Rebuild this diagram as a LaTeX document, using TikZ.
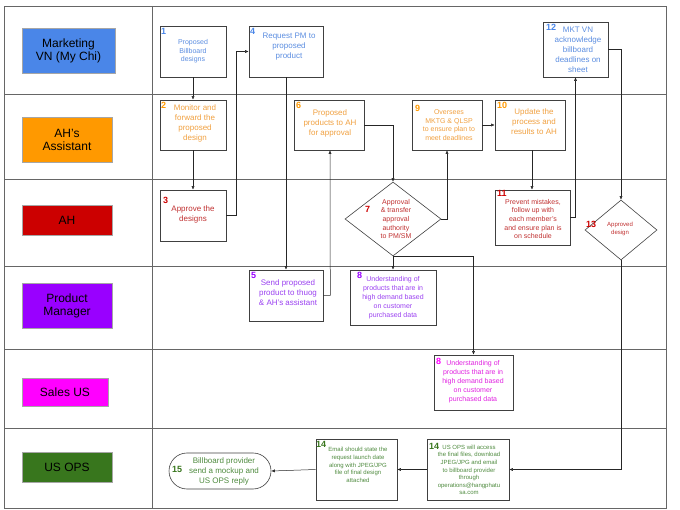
\documentclass[tikz,border=0pt]{standalone}
\usepackage{fontspec}
\setmainfont{Liberation Sans}
\usetikzlibrary{shapes.geometric,shapes.misc,arrows.meta}
\definecolor{cmk}{HTML}{4A86E8}
\definecolor{cas}{HTML}{FF9900}
\definecolor{cah}{HTML}{CC0000}
\definecolor{cpm}{HTML}{9900FF}
\definecolor{csu}{HTML}{FF00FF}
\definecolor{cop}{HTML}{38761D}
\definecolor{tmk}{HTML}{5B8DE0}
\definecolor{tas}{HTML}{F0A040}
\definecolor{tah}{HTML}{C03030}
\definecolor{tpm}{HTML}{9A40F0}
\definecolor{tsu}{HTML}{E020E0}
\definecolor{top}{HTML}{4E8A3E}
\tikzset{
 lane/.style={draw=gray!70,line width=0.6pt,minimum height=0pt,inner sep=0pt,font=\fontsize{12}{13}\selectfont,align=center},
 box/.style={draw=black!75,line width=0.6pt,inner sep=1pt,align=center,font=\fontsize{8}{10}\selectfont},
 dia/.style={draw=black!75,line width=0.6pt,diamond,inner sep=0pt,align=center},
 num/.style={font=\bfseries\fontsize{9}{9}\selectfont,inner sep=1pt,anchor=north west},
 arr/.style={-{Latex[length=3.5pt,width=3pt]},line width=0.5pt,black!85},
 grid/.style={line width=0.7pt,black!60}
}
\begin{document}
\begin{tikzpicture}[x=1pt,y=-1pt]
\useasboundingbox (0,0) rectangle (680,510);
% grid
\draw[grid] (4,6) rectangle (666,508);
\draw[grid] (152,6) -- (152,508);
\foreach \y in {94,179,266,349,428} \draw[grid] (4,\y) -- (666,\y);
% lane labels
\node[lane,fill=cmk,minimum width=93,minimum height=45] (L1) at (68.5,50.5) {Marketing\\VN (My Chi)};
\node[lane,fill=cas,minimum width=90,minimum height=45] (L2) at (67,139.5) {AH's\\Assistant};
\node[lane,fill=cah,minimum width=90,minimum height=30] (L3) at (67,220) {AH};
\node[lane,fill=cpm,minimum width=90,minimum height=45] (L4) at (67,305.5) {Product\\Manager};
\node[lane,fill=csu,minimum width=86,minimum height=28] (L5) at (65,392) {Sales US};
\node[lane,fill=cop,minimum width=90,minimum height=30] (L6) at (67,467) {US OPS};
% boxes
\node[box,text=tmk,minimum width=66,minimum height=51,font=\fontsize{7}{8.5}\selectfont] (n1) at (193,51.5) {Proposed\\Billboard\\designs};
\node[num,text=cmk] at (160,27) {1};
\node[box,minimum width=74,minimum height=51] (n4) at (286,51.5) {};
\node[text=tmk,font=\fontsize{8}{10}\selectfont,align=center] at (289,47) {Request PM to\\proposed\\product};
\node[num,text=cmk] at (249,27) {4};
\node[box,minimum width=65,minimum height=55] (n12) at (575.5,49.5) {};
\node[text=tmk,font=\fontsize{8}{10}\selectfont,align=center] at (578,50) {MKT VN\\acknowledge\\billboard\\deadlines on\\sheet};
\node[num,text=cmk] at (545,23) {12};
\node[box,minimum width=66,minimum height=50] (n2) at (193,125) {};
\node[text=tas,font=\fontsize{8}{10}\selectfont,align=center] at (195,123) {Monitor and\\forward the\\proposed\\design};
\node[num,text=cas] at (160,101) {2};
\node[box,minimum width=70,minimum height=50] (n6) at (329,125) {};
\node[text=tas,font=\fontsize{8}{10}\selectfont,align=center] at (330,123) {Proposed\\products to AH\\for approval};
\node[num,text=cas] at (295,101) {6};
\node[box,minimum width=70,minimum height=50] (n9) at (447,125) {};
\node[text=tas,font=\fontsize{7}{8.5}\selectfont,align=center] at (449,125) {Oversees\\MKTG \& QLSP\\to ensure plan to\\meet deadlines};
\node[num,text=cas] at (414,104) {9};
\node[box,minimum width=70,minimum height=50] (n10) at (530,125) {};
\node[text=tas,font=\fontsize{8}{10}\selectfont,align=center] at (534,122) {Update the\\process and\\results to AH};
\node[num,text=cas] at (496,101) {10};
\node[box,minimum width=66,minimum height=51] (n3) at (193,215.5) {};
\node[text=tah,font=\fontsize{8}{10}\selectfont,align=center] at (193,214) {Approve the\\designs};
\node[num,text=cah] at (162,196) {3};
\node[box,minimum width=75,minimum height=55] (n11) at (532.5,217.5) {};
\node[text=tah,font=\fontsize{7}{8.5}\selectfont,align=center] at (533,219) {Prevent mistakes,\\follow up with\\each member's\\and ensure plan is\\on schedule};
\node[num,text=cah] at (496,189) {11};
\node[dia,minimum width=96,minimum height=74] (n7) at (393,219) {};
\node[text=tah,font=\fontsize{7}{8.5}\selectfont,align=center] at (396,219) {Approval\\\& transfer\\approval\\authority\\to PM/SM};
\node[num,text=cah] at (364,205) {7};
\node[dia,minimum width=72,minimum height=60] (n13) at (621,230) {};
\node[text=tah,font=\fontsize{6}{7.5}\selectfont,align=center] at (620,229) {Approved\\design};
\node[num,text=cah] at (585,220) {13};
\node[box,minimum width=74,minimum height=51] (n5) at (286,295.5) {};
\node[text=tpm,font=\fontsize{8}{10}\selectfont,align=center] at (288,293) {Send proposed\\product to thuog\\\& AH's assistant};
\node[num,text=cpm] at (250,271) {5};
\node[box,minimum width=86,minimum height=55] (n8a) at (393,297.5) {};
\node[text=tpm,font=\fontsize{7}{9}\selectfont,align=center] at (393,298) {Understanding of\\products that are in\\high demand based\\on customer\\purchased data};
\node[num,text=cpm] at (356,271) {8};
\node[box,minimum width=79,minimum height=55] (n8b) at (473.5,382.5) {};
\node[text=tsu,font=\fontsize{7}{9}\selectfont,align=center] at (473,382) {Understanding of\\products that are in\\high demand based\\on customer\\purchased data};
\node[num,text=csu] at (435,357) {8};
\node[box,minimum width=82,minimum height=61] (n14b) at (468,469.5) {};
\node[text=top,font=\fontsize{6}{7.6}\selectfont,align=center] at (469,470) {US OPS will access\\the final files, download\\JPEG/JPG and email\\to billboard provider\\through\\operations@hangphatu\\sa.com};
\node[num,text=cop] at (428,442) {14};
\node[box,minimum width=81,minimum height=61] (n14a) at (356.5,469.5) {};
\node[text=top,font=\fontsize{6}{7.6}\selectfont,align=center] at (358,465) {Email should state the\\request launch date\\along with JPEG/JPG\\file of final design\\attached};
\node[num,text=cop] at (315,440) {14};
\node[box,rounded rectangle,minimum width=104,minimum height=36] (n15) at (220,471) {};
\node[text=top,font=\fontsize{8}{10}\selectfont,align=center] at (224,471) {Billboard provider\\send a mockup and\\US OPS reply};
\node[num,text=cop] at (171,465) {15};
% connectors
\draw[arr] (n1.south) -- (n2.north);
\draw[arr] (n2.south) -- (n3.north);
\draw[arr] (n3.east) -- ++(10,0) |- (n4.west);
\draw[arr] (n4.south) -- (n5.north);
\draw[arr] (n5.east) -- ++(7,0) -- ([xshift=1pt]n6.south);
\draw[arr] (n6.east) -| (n7.north);
\draw[arr] (n7.south) -- (n8a.north);
\draw[arr] (n7.south) -| (n8b.north);
\draw[arr] (n7.east) -| (n9.south);
\draw[arr] (n9.east) -- (n10.west);
\draw[arr] ([xshift=2pt]n10.south) -- ([xshift=2pt]n10.south |- n11.north);
\draw[arr] (n11.east) -| (n12.south);
\draw[arr] (n12.east) -| (n13.north);
\draw[arr] (n13.south) |- (n14b.east);
\draw[arr] (n14b.west) -- (n14a.east);
\draw[arr] (n14a.west) -- (n15.east);
\end{tikzpicture}
\end{document}
